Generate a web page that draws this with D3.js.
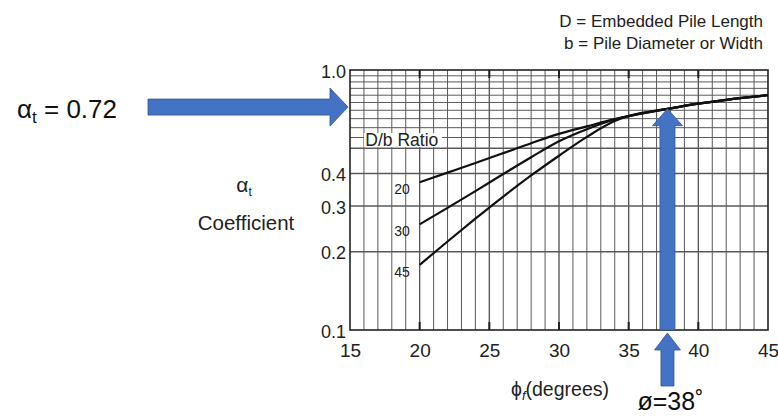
<!DOCTYPE html>
<html><head><meta charset="utf-8">
<script src="https://cdn.jsdelivr.net/npm/d3@7"></script>
<style>
html,body{margin:0;padding:0;background:#fff;}
svg{display:block;}
text{font-family:"Liberation Sans",Arial,sans-serif;}
</style></head>
<body>
<svg id="chart" width="778" height="417"></svg>
<script>
// ---- data ----
const phiValues = [20, 22, 24, 26, 28, 30, 32, 34, 35, 38, 40, 42, 45];
const ratio20 = [0.37, 0.403, 0.439, 0.479, 0.523, 0.568, 0.607, 0.648, 0.665, 0.712, 0.742, 0.768, 0.80];
const ratio30 = [0.255, 0.295, 0.342, 0.398, 0.462, 0.532, 0.592, 0.645, 0.665, 0.712, 0.742, 0.768, 0.80];
const ratio45 = [0.178, 0.219, 0.268, 0.326, 0.393, 0.468, 0.553, 0.636, 0.665, 0.712, 0.742, 0.768, 0.80];
const seriesNames = ["20", "30", "45"];
const xTicks = [15, 20, 25, 30, 35, 40, 45];
const yTicks = [0.1, 0.2, 0.3, 0.4, 1.0];
const yGrid = [0.2, 0.3, 0.4, 0.5, 0.55, 0.6, 0.65, 0.7, 0.75, 0.8, 0.85, 0.9, 0.95];
const alphaResult = 0.72;
const phiResult = 38;

const svg = d3.select("#chart");
const M = {left: 350, right: 768, top: 70, bottom: 330};
const x = d3.scaleLinear().domain([15, 45]).range([M.left, M.right]);
const y = d3.scaleLog().domain([0.1, 1.0]).range([M.bottom, M.top]);

// grid
const g = svg.append("g");
g.selectAll("line.v").data(d3.range(16, 45)).join("line")
  .attr("x1", d => x(d)).attr("x2", d => x(d))
  .attr("y1", M.top).attr("y2", M.bottom)
  .attr("stroke", "#5a5a5a").attr("stroke-width", d => d % 5 === 0 ? 1.4 : 1);
g.selectAll("line.h").data(yGrid).join("line")
  .attr("x1", M.left).attr("x2", M.right)
  .attr("y1", d => y(d)).attr("y2", d => y(d))
  .attr("stroke", "#5a5a5a").attr("stroke-width", d => [0.2,0.3,0.4,0.5].includes(d) ? 1.4 : 1);
// thick 5-degree ticks at top and bottom
g.selectAll("line.tt").data(xTicks.slice(1, -1)).join("line")
  .attr("x1", d => x(d)).attr("x2", d => x(d))
  .attr("y1", M.top).attr("y2", M.top + 8)
  .attr("stroke", "#222").attr("stroke-width", 2);
g.selectAll("line.tb").data(xTicks.slice(1, -1)).join("line")
  .attr("x1", d => x(d)).attr("x2", d => x(d))
  .attr("y1", M.bottom - 8).attr("y2", M.bottom)
  .attr("stroke", "#222").attr("stroke-width", 2);

// D/b Ratio label with white background
svg.append("rect").attr("x", x(16.0)).attr("y", y(0.572)).attr("width", x(21.6) - x(16.0)).attr("height", y(0.505) - y(0.572))
  .attr("fill", "#fff");
svg.append("text").attr("x", x(16.1)).attr("y", y(0.51)).attr("font-size", 17.5).attr("fill", "#222")
  .text("D/b Ratio");

// frame
svg.append("rect").attr("x", M.left).attr("y", M.top).attr("width", M.right - M.left).attr("height", M.bottom - M.top)
  .attr("fill", "none").attr("stroke", "#222").attr("stroke-width", 1.6);

// curves
const series = [ratio20, ratio30, ratio45];
const line = d3.line().x((d, i) => x(phiValues[i])).y(d => y(d)).curve(d3.curveMonotoneX);
svg.selectAll("path.c").data(series).join("path")
  .attr("d", d => line(d)).attr("fill", "none").attr("stroke", "#111").attr("stroke-width", 2.2);
svg.selectAll("text.cl").data(series).join("text")
  .attr("x", x(19.3)).attr("y", d => y(d[0]) + 12)
  .attr("text-anchor", "end").attr("font-size", 14).attr("fill", "#222")
  .text((d, i) => seriesNames[i]);

// axes
const xAxis = d3.axisBottom(x).tickValues(xTicks).tickSize(0).tickPadding(14).tickFormat(d3.format("d"));
const xa = svg.append("g").attr("transform", `translate(0,${M.bottom})`).call(xAxis);
xa.select(".domain").remove();
xa.selectAll("text").attr("font-size", 19).attr("fill", "#222").attr("font-family", "Liberation Sans, Arial, sans-serif");
const yAxis = d3.axisLeft(y).tickValues(yTicks).tickSize(0).tickPadding(4).tickFormat(d3.format(".1f"));
const ya = svg.append("g").attr("transform", `translate(${M.left},0)`).call(yAxis);
ya.select(".domain").remove();
ya.selectAll("text").attr("font-size", 18).attr("fill", "#222").attr("font-family", "Liberation Sans, Arial, sans-serif")
  .attr("dy", "0.4em");

// axis titles
const yt = svg.append("text").attr("x", 244).attr("y", 192).attr("text-anchor", "middle").attr("font-size", 21).attr("fill", "#222");
yt.append("tspan").text("α");
yt.append("tspan").attr("font-size", 12).attr("dy", 4).text("t");
svg.append("text").attr("x", 246).attr("y", 230).attr("text-anchor", "middle").attr("font-size", 20.5).attr("fill", "#222").text("Coefficient");
const xt = svg.append("text").attr("x", 560).attr("y", 396).attr("text-anchor", "middle").attr("font-size", 19.5).attr("fill", "#222");
xt.append("tspan").text("ϕ");
xt.append("tspan").attr("font-size", 13).attr("font-style", "italic").attr("dy", 4).text("f");
xt.append("tspan").attr("dy", -4).text("(degrees)");

// legend notes
svg.append("text").attr("x", 763).attr("y", 27).attr("text-anchor", "end").attr("font-size", 17).attr("fill", "#222").text("D = Embedded Pile Length");
svg.append("text").attr("x", 763).attr("y", 49).attr("text-anchor", "end").attr("font-size", 17).attr("fill", "#222").text("b = Pile Diameter or Width");

// blue arrows
const blue = "#4472C4", blueEdge = "#2F5597";
const ay = y(alphaResult);
// horizontal arrow
svg.append("path").attr("d", `M148,${ay-8} L330,${ay-8} L330,${ay-19} L348,${ay} L330,${ay+19} L330,${ay+8} L148,${ay+8} Z`)
  .attr("fill", blue).attr("stroke", blueEdge).attr("stroke-width", 0.8);
svg.append("text").attr("x", 17).attr("y", ay + 11).attr("font-family", "Open Sans, sans-serif").attr("font-size", 26).attr("fill", "#111")
  .call(t => { t.append("tspan").text("α"); t.append("tspan").attr("font-size", 17).attr("dy", 5).text("t"); t.append("tspan").attr("dy", -5).text(" = " + alphaResult.toFixed(2)); });
// vertical arrow up from bottom of plot to curve
const ax = x(phiResult) - 3;
const tipY = y(0.71);
svg.append("path").attr("d", `M${ax-7.5},${M.bottom} L${ax-7.5},${tipY+17} L${ax-15},${tipY+17} L${ax},${tipY} L${ax+15},${tipY+17} L${ax+7.5},${tipY+17} L${ax+7.5},${M.bottom} Z`)
  .attr("fill", blue).attr("stroke", blueEdge).attr("stroke-width", 0.8);
// arrow below axis
svg.append("path").attr("d", `M${ax-6.5},386 L${ax-6.5},350 L${ax-13},350 L${ax},333 L${ax+13},350 L${ax+6.5},350 L${ax+6.5},386 Z`)
  .attr("fill", blue).attr("stroke", blueEdge).attr("stroke-width", 0.8);
svg.append("text").attr("x", ax - 30).attr("y", 410).attr("font-family", "Open Sans, sans-serif").attr("font-size", 25).attr("fill", "#111")
  .text("ø=" + phiResult + "˚");
</script>
</body></html>
